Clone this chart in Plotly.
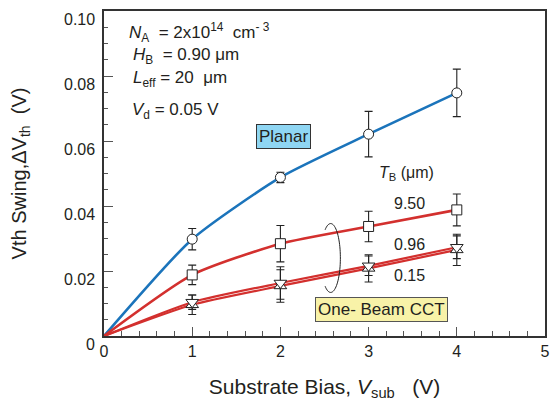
import numpy as np
import plotly.graph_objects as go

# ---------------- data ----------------
vsub = [1, 2, 3, 4]

planar_y = [0.0298, 0.0488, 0.0621, 0.0748]
planar_err = [0.0033, 0.0016, 0.0070, 0.0073]

tb950_y = [0.0188, 0.0284, 0.0337, 0.0388]
tb950_err = [0.0030, 0.0056, 0.0047, 0.0049]

tb096_y = [0.0104, 0.0163, 0.0216, 0.0273]
tb096_err = [0.0022, 0.0050, 0.0030, 0.0035]

tb015_y = [0.0096, 0.0154, 0.0208, 0.0265]
tb015_err = [0.0030, 0.0050, 0.0042, 0.0048]

x_ticks = [0, 1, 2, 3, 4, 5]
y_ticks = [0, 0.02, 0.04, 0.06, 0.08, 0.10]
y_tick_text = ["0", "0.02", "0.04", "0.06", "0.08", "0.10"]

BLUE = "#1b74bb"
RED = "#d3302e"
TXT = "#231f20"
FONT = "Arial, Liberation Sans, sans-serif"

fig = go.Figure()

def curve(ys, color, width=2.6):
    fig.add_trace(go.Scatter(
        x=[0] + vsub, y=[0] + ys, mode="lines",
        line=dict(color=color, width=width, shape="spline", smoothing=0.6),
        hoverinfo="skip", showlegend=False))

def pts(ys, errs, symbol, size=9):
    fig.add_trace(go.Scatter(
        x=vsub, y=ys, mode="markers",
        marker=dict(symbol=symbol, size=size, color="white",
                    line=dict(color="#222", width=1)),
        error_y=dict(type="data", array=errs, visible=True,
                     color="#222", thickness=1.1, width=4),
        showlegend=False))

curve(planar_y, BLUE)
curve(tb950_y, RED)
curve(tb096_y, RED, 2.2)
curve(tb015_y, RED, 2.2)

pts(planar_y, planar_err, "circle", 10)
pts(tb950_y, tb950_err, "square", 10)
pts(tb015_y, tb015_err, "triangle-up", 11)
pts(tb096_y, tb096_err, "triangle-down", 11)

# open elliptical bracket grouping the One-Beam CCT curves
cx, cy, rx, ry = 2.57, 0.0240, 0.11, 0.0106
th = np.linspace(np.deg2rad(125), np.deg2rad(-125), 60)
ex = cx + rx * np.cos(th)
ey = cy + ry * np.sin(th)
path = "M " + " L ".join(f"{a:.4f},{b:.5f}" for a, b in zip(ex, ey))
fig.add_shape(type="path", path=path, xref="x", yref="y",
              line=dict(color="#222", width=1))

ann = []
def text(x, y, s, size=17, xanchor="left", **kw):
    ann.append(dict(x=x, y=y, xref="x", yref="y", text=s, showarrow=False,
                    xanchor=xanchor, yanchor="middle",
                    font=dict(family=FONT, size=size, color=TXT), **kw))

text(0.26, 0.0935, "<i>N</i><sub>A</sub>  = 2x10<sup>14</sup>  cm<sup>- 3</sup>")
text(0.31, 0.0862, "<i>H</i><sub>B</sub>  = 0.90 μm")
text(0.31, 0.0790, "<i>L</i><sub>eff</sub> = 20  μm")
text(0.30, 0.0692, "<i>V</i><sub>d</sub> = 0.05 V")

text(3.10, 0.0500, "<i>T</i><sub>B</sub> (μm)", size=16)
text(3.46, 0.0408, "9.50", size=16, xanchor="center")
text(3.46, 0.0283, "0.96", size=16, xanchor="center")
text(3.46, 0.0185, "0.15", size=16, xanchor="center")

ann.append(dict(x=2.03, y=0.0613, xref="x", yref="y", text="Planar",
                showarrow=False, font=dict(family=FONT, size=17, color=TXT),
                bgcolor="#8fd6f3", bordercolor="#333", borderwidth=1,
                borderpad=2))
ann.append(dict(x=3.15, y=0.0081, xref="x", yref="y", text="One- Beam CCT",
                showarrow=False, font=dict(family=FONT, size=17, color=TXT),
                bgcolor="#f8f2a8", bordercolor="#555", borderwidth=1,
                borderpad=2))

# y tick labels (drawn slightly below their ticks, as in the original)
for v, t in zip(y_ticks, y_tick_text):
    ann.append(dict(x=0, y=v, xref="paper", yref="y", text=t, showarrow=False,
                    xanchor="right", yanchor="middle", xshift=-7, yshift=-8,
                    font=dict(family=FONT, size=16, color=TXT)))

axis_common = dict(showline=True, linecolor="#333", linewidth=2, mirror=True,
                   ticks="inside", tickcolor="#555", showgrid=False,
                   zeroline=False)

fig.update_layout(
    width=556, height=401,
    margin=dict(l=104, r=6, t=11, b=63),
    paper_bgcolor="white", plot_bgcolor="white",
    font=dict(family=FONT, size=16, color=TXT),
    annotations=ann,
    xaxis=dict(range=[0, 5], tickvals=x_ticks, ticklen=9, tickwidth=1,
               minor=dict(dtick=0.2, ticklen=5, ticks="inside",
                          tickcolor="#555", tickwidth=1),
               tickfont=dict(size=16, color=TXT),
               title=dict(text="Substrate Bias, <i>V</i><sub>sub</sub>   (V)",
                          font=dict(size=21, color=TXT), standoff=20),
               **axis_common),
    yaxis=dict(range=[0, 0.10], tickvals=y_ticks, ticklen=9, tickwidth=1,
               showticklabels=False,
               minor=dict(dtick=0.005, ticklen=4, ticks="inside",
                          tickcolor="#555", tickwidth=1),
               title=dict(text="Vth Swing,ΔV<sub>th</sub>  (V)",
                          font=dict(size=20, color=TXT), standoff=70),
               **axis_common),
)

fig.write_html("out.html")
